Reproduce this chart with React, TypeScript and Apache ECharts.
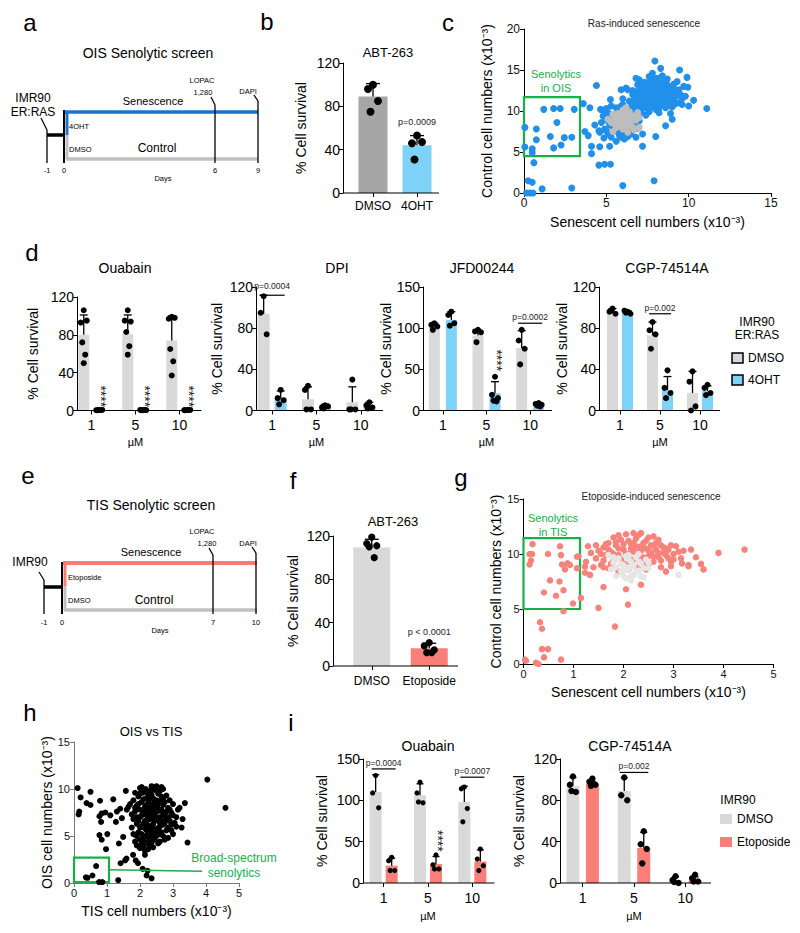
import React, { useEffect, useRef } from "react";
import * as echarts from "echarts";

const FONT = "Arial, 'Liberation Sans', Helvetica, sans-serif";
const GREEN = "#17b04a";
const BLUE_BAR = "#7dd3f7";
const GRAY_BAR = "#d9d9d9";
const DARK_GRAY_BAR = "#a6a6a6";
const SALMON = "#fb7f79";

// ---------- Panel b ----------
const bCategories = ["DMSO", "4OHT"];
const bMeans = [89, 44];
const bErrTop = [101, 53];
const bDots = [[100, 96, 85, 75], [53, 46, 47, 31]];

// ---------- Panel c ----------
const cBlue: number[][] = [
  [6.4, 11.2], [6.6, 12.0], [6.7, 10.6], [6.8, 11.6], [6.9, 12.4], [7.0, 10.9], [7.0, 11.9], [7.1, 13.0], [7.2, 10.3], [7.2, 11.4],
  [7.3, 12.2], [7.3, 13.5], [7.4, 10.8], [7.5, 11.7], [7.5, 12.6], [7.6, 9.9], [7.6, 11.1], [7.7, 12.1], [7.7, 13.2], [7.8, 10.5],
  [7.8, 11.5], [7.9, 12.8], [7.9, 14.0], [8.0, 10.2], [8.0, 11.9], [8.1, 11.0], [8.1, 12.5], [8.2, 13.4], [8.3, 10.7], [8.3, 11.8],
  [8.4, 12.3], [8.5, 11.2], [8.5, 13.0], [8.6, 10.4], [8.6, 12.0], [8.7, 11.5], [8.8, 12.6], [8.8, 10.9], [8.9, 11.8], [9.0, 12.9],
  [9.0, 10.5], [9.1, 11.4], [9.2, 12.2], [9.3, 13.6], [9.4, 11.0], [9.5, 12.0], [9.6, 10.8], [6.5, 10.0], [6.9, 9.6], [7.4, 9.5],
  [8.2, 9.8], [8.9, 9.7], [7.0, 13.8], [7.6, 14.2], [8.4, 14.3], [8.7, 13.9], [6.2, 12.8], [6.0, 11.5], [9.8, 11.8], [9.7, 13.0],
  [6.8, 10.2], [6.9, 11.0], [7.0, 12.6], [7.1, 11.5], [7.1, 10.5], [7.2, 12.0], [7.3, 10.9], [7.3, 11.7], [7.4, 12.4], [7.4, 13.0],
  [7.5, 10.3], [7.5, 11.2], [7.6, 12.2], [7.6, 13.6], [7.7, 10.8], [7.7, 11.6], [7.8, 12.4], [7.8, 13.0], [7.9, 11.1], [7.9, 12.0],
  [8.0, 10.7], [8.0, 12.6], [8.0, 13.5], [8.1, 11.5], [8.2, 10.4], [8.2, 12.1], [8.2, 12.9], [8.3, 11.3], [8.4, 10.9], [8.4, 11.7],
  [8.4, 13.5], [8.5, 12.6], [8.6, 11.1], [8.6, 12.4], [8.7, 10.7], [8.7, 13.2], [8.8, 11.9], [8.9, 11.2], [8.9, 12.3], [9.0, 11.7],
  [9.1, 12.7], [9.2, 10.9], [9.3, 11.9], [9.4, 12.6], [7.2, 12.9], [6.7, 11.3], [6.6, 12.5], [6.9, 13.2], [7.8, 14.6], [8.1, 14.0],
  [9.1, 13.3], [9.6, 11.5],
  [4.7, 8.6], [4.8, 9.4], [4.9, 7.8], [5.0, 8.9], [5.1, 9.8], [5.1, 7.2], [5.2, 8.3], [5.3, 6.8], [5.4, 9.3], [5.5, 7.6],
  [5.6, 8.7], [5.7, 10.0], [5.8, 7.0], [5.9, 8.1], [6.0, 9.5], [6.1, 6.6], [6.2, 7.7], [6.3, 8.8], [6.4, 10.2], [6.5, 7.2],
  [6.6, 8.3], [6.7, 9.4], [6.9, 7.9], [7.0, 8.8], [7.1, 9.8], [5.0, 10.3], [5.6, 6.3], [6.8, 6.8], [4.6, 7.4], [5.3, 10.6],
  [6.0, 10.8], [7.2, 7.2], [5.2, 9.5], [5.4, 8.0], [5.5, 8.7], [5.7, 7.4], [5.8, 9.3], [6.0, 8.4], [6.1, 7.2], [6.4, 7.6],
  [6.6, 9.9], [6.8, 8.4], [5.9, 6.8], [6.3, 6.9], [5.0, 7.6], [4.9, 9.9], [6.5, 10.5], [6.9, 10.4], [5.6, 10.4], [5.9, 10.6],
  [0.05, 8.0], [0.75, 7.8], [1.2, 10.2], [1.8, 10.3], [2.2, 10.3], [3.05, 10.2], [2.0, 8.6], [0.75, 6.5], [1.6, 6.9], [2.45, 6.75],
  [2.9, 6.8], [2.25, 5.85], [1.8, 5.5], [0.05, 5.6], [0.5, 5.4], [0.5, 4.9], [0.6, 3.7], [0.25, 1.5], [0.5, 1.3], [1.1, 0.5],
  [0.15, 0], [0.35, 0], [0.55, 0], [2.9, 0.6], [6.0, 0.9], [7.9, 1.5], [4.9, 3.5], [5.25, 3.5], [4.55, 3.4], [4.1, 4.8],
  [4.6, 5.65], [4.1, 5.7], [5.2, 5.7], [3.6, 10.9], [4.4, 13.1], [7.95, 16.1], [9.45, 15.0], [11.1, 10.3], [10.3, 11.3], [9.95, 12.9],
  [9.9, 14.1], [7.2, 5.7], [8.0, 6.9], [4.0, 10.4], [4.65, 10.2], [4.3, 8.3], [3.9, 7.0], [3.7, 7.5], [4.55, 7.6], [4.85, 6.7],
  [5.25, 11.4], [5.9, 12.6], [6.3, 12.6], [8.6, 8.2], [9.0, 9.0], [10.0, 10.6], [8.3, 15.2], [6.8, 14.0],
];
const cGray: number[][] = [
  [5.3, 8.6], [5.5, 9.2], [5.6, 8.0], [5.7, 9.7], [5.8, 8.5], [5.9, 9.1], [6.0, 7.8], [6.0, 10.1], [6.1, 8.8], [6.2, 9.4],
  [6.3, 8.2], [6.4, 9.9], [6.5, 8.7], [6.6, 9.3], [6.7, 7.7], [6.8, 8.9], [6.9, 9.8], [5.4, 7.5], [6.2, 10.4], [7.0, 9.2],
  [5.1, 9.0], [6.3, 7.4], [7.0, 8.0], [5.5, 8.4], [5.6, 9.0], [5.8, 9.4], [5.9, 8.7], [6.0, 9.0], [6.1, 8.3], [6.1, 9.8],
  [6.3, 9.1], [6.4, 8.5], [6.5, 9.5], [6.6, 8.0], [6.7, 9.0], [5.7, 8.2], [6.2, 8.0], [6.8, 9.4], [5.4, 9.6],
];
const cBox = [[0, 4.5], [3.4, 11.7]];

// ---------- Panel d ----------
const doseCategories = ["1", "5", "10"];
const ouaDmsoMeans = [80, 81, 74];
const ouaDmsoErrTop = [101, 101, 100];
const ouaDmsoDots = [[106, 93, 95, 72, 59, 50], [106, 95, 94, 83, 68, 59], [99, 97, 98, 65, 52, 37]];
const ouaOhtMeans = [0.5, 0.5, 0.5];
const ouaOhtErrTop = [1, 1, 1];
const ouaOhtDots = [[0.5, 0.3, 0.6, 0.4, 0.5], [0.4, 0.6, 0.5, 0.3, 0.5], [0.5, 0.4, 0.6, 0.3, 0.5]];

const dpiDmsoMeans = [94, 11, 8];
const dpiDmsoErrTop = [112, 23, 23];
const dpiDmsoDots = [[111, 95, 74], [24, 20, 1, 1], [30, 1, 1, 1]];
const dpiOhtMeans = [12, 4, 4];
const dpiOhtErrTop = [19, 6, 8];
const dpiOhtDots = [[20, 12, 10, 6], [5, 3, 4, 2], [8, 5, 3, 2]];

const jfdDmsoMeans = [102, 91, 76];
const jfdDmsoErrTop = [106, 97, 97];
const jfdDmsoDots = [[106, 104, 102, 98], [98, 96, 95, 83], [98, 85, 75, 56]];
const jfdOhtMeans = [110, 21, 6];
const jfdOhtErrTop = [120, 35, 9];
const jfdOhtDots = [[120, 116, 106, 103], [41, 19, 15, 12, 11], [9, 8, 7, 6, 5]];

const cgpDmsoMeans = [96.5, 73, 17];
const cgpDmsoErrTop = [99, 86, 38];
const cgpDmsoDots = [[99, 96, 94, 97], [86, 78, 74, 60], [38, 28, 4, 0]];
const cgpOhtMeans = [95.5, 20, 19];
const cgpOhtErrTop = [97, 33, 24];
const cgpOhtDots = [[96, 97, 94, 95], [39, 22, 17, 12], [25, 22, 17, 15]];

// ---------- Panel f ----------
const fCategories = ["DMSO", "Etoposide"];
const fMeans = [109.5, 16.3];
const fErrTop = [117, 21];
const fDots = [[119, 113, 111, 110, 100], [21.5, 18.5, 14.8, 12.3, 12.3]];

// ---------- Panel g ----------
const gSalmon: number[][] = [
  [1.45, 9.6], [1.5, 10.3], [1.55, 9.0], [1.6, 10.6], [1.65, 9.9], [1.7, 8.7], [1.7, 11.0], [1.75, 10.2], [1.8, 9.4], [1.85, 10.8],
  [1.9, 8.4], [1.9, 9.9], [1.95, 11.3], [2.0, 10.4], [2.0, 9.1], [2.05, 11.8], [2.1, 10.0], [2.1, 8.6], [2.15, 10.9], [2.2, 9.5],
  [2.25, 11.4], [2.3, 10.2], [2.3, 8.8], [2.35, 10.7], [2.4, 9.7], [2.45, 11.2], [2.5, 10.3], [2.5, 9.1], [2.55, 10.8], [2.6, 9.8],
  [2.65, 11.0], [2.7, 10.1], [2.75, 9.4], [2.8, 10.6], [2.85, 9.9], [2.9, 10.4], [2.95, 9.3], [3.0, 10.0], [3.05, 10.7], [1.35, 10.1],
  [1.25, 9.3], [1.4, 8.8], [2.2, 11.9], [2.6, 11.6], [1.8, 11.5], [3.15, 9.6], [3.2, 10.3], [3.3, 9.0], [3.45, 9.7], [3.55, 9.1],
  [3.35, 10.4],
  [1.55, 10.0], [1.6, 9.4], [1.65, 10.9], [1.7, 10.4], [1.75, 9.1], [1.8, 10.0], [1.85, 11.1], [1.9, 10.5], [1.95, 9.5], [2.0, 10.9],
  [2.05, 10.0], [2.1, 11.2], [2.1, 9.3], [2.15, 10.5], [2.2, 11.0], [2.2, 10.2], [2.25, 10.7], [2.3, 11.7], [2.3, 9.8], [2.35, 10.3],
  [2.4, 11.0], [2.4, 9.2], [2.45, 10.5], [2.5, 11.5], [2.5, 9.8], [2.55, 10.1], [2.6, 10.7], [2.6, 9.3], [2.65, 10.4], [2.7, 11.3],
  [2.7, 9.7], [2.75, 10.8], [2.8, 10.1], [2.85, 10.5], [2.9, 9.6], [2.95, 10.8], [3.0, 9.5], [3.1, 10.2], [1.45, 10.8], [1.6, 8.8],
  [2.45, 8.6], [2.75, 8.8], [2.95, 8.9], [1.9, 11.7], [2.35, 11.9],
  [0.18, 10.9], [0.12, 10.0], [0.17, 10.0], [0.15, 9.4], [0.12, 9.05], [0.49, 10.0], [0.73, 10.7], [0.75, 9.9], [0.77, 9.05], [0.88, 9.15],
  [0.83, 8.6], [0.93, 9.0], [1.07, 9.75], [1.07, 8.7], [0.53, 7.6], [0.72, 7.5], [0.41, 6.5], [0.8, 6.7], [0.65, 6.2], [0.99, 5.5],
  [0.8, 4.8], [1.15, 6.0], [1.29, 10.7], [1.23, 8.85], [1.23, 8.3], [1.33, 8.1], [3.9, 10.1], [4.42, 10.4], [3.3, 8.9], [3.17, 9.15],
  [1.5, 5.1], [1.83, 3.4], [2.09, 5.4], [0.33, 3.8], [0.37, 3.2], [0.37, 1.35], [0.49, 1.35], [0.41, 0.6], [0.75, 0.4], [0.03, 0.4],
  [0.05, 0.3], [0.25, 0.1], [0.3, 0.0], [2.05, 6.8], [1.6, 7.0], [2.35, 7.2], [2.85, 8.4], [3.6, 8.6], [1.1, 9.8],
];
const gGray: number[][] = [
  [1.75, 8.6], [1.8, 9.2], [1.85, 8.0], [1.9, 9.6], [1.95, 8.4], [2.0, 9.0], [2.05, 7.8], [2.05, 9.8], [2.1, 8.6], [2.15, 9.3],
  [2.2, 8.1], [2.25, 9.7], [2.3, 8.5], [2.35, 9.1], [2.4, 7.9], [2.45, 9.5], [2.15, 7.6], [2.5, 8.7], [3.1, 8.1], [1.7, 9.9],
  [2.3, 10.0], [1.85, 8.8], [1.95, 9.1], [2.0, 8.5], [2.1, 9.5], [2.2, 8.9], [2.25, 8.4], [2.3, 9.3], [2.4, 8.7], [2.0, 8.0],
  [2.15, 8.0], [2.35, 8.0], [1.8, 9.7], [2.1, 9.9], [2.5, 9.2],
];
const gBox = [[0, 5.0], [1.13, 11.45]];

// ---------- Panel h ----------
const hPoints: number[][] = [
  [1.8, 8.8], [1.85, 7.6], [1.9, 6.3], [1.9, 8.2], [1.95, 5.4], [1.95, 9.2], [2.0, 7.0], [2.0, 4.6], [2.05, 8.6], [2.05, 6.0],
  [2.1, 7.6], [2.1, 5.0], [2.1, 9.6], [2.15, 6.6], [2.15, 8.1], [2.2, 4.2], [2.2, 5.6], [2.2, 7.2], [2.2, 9.0], [2.25, 6.1],
  [2.25, 8.5], [2.3, 4.9], [2.3, 7.8], [2.3, 6.8], [2.35, 5.3], [2.35, 9.4], [2.4, 6.3], [2.4, 8.0], [2.45, 7.2], [2.45, 4.6],
  [2.5, 5.8], [2.5, 8.8], [2.55, 6.7], [2.6, 7.7], [2.6, 5.2], [2.65, 9.2], [2.7, 6.2], [2.7, 8.3], [2.75, 7.1], [2.8, 5.6],
  [2.85, 8.0], [2.9, 6.6], [2.95, 7.5], [3.0, 8.4], [2.0, 3.7], [2.3, 3.9], [1.75, 7.3], [1.75, 5.9], [2.4, 10.0], [2.6, 9.8],
  [3.1, 7.0], [3.2, 8.0], [3.0, 5.2], [1.7, 8.4], [2.15, 3.4], [2.55, 4.2], [2.85, 4.8], [1.85, 4.4], [2.0, 10.1], [2.5, 10.3],
  [2.05, 5.2], [2.25, 7.4], [2.35, 6.0], [2.45, 8.6], [2.15, 5.8], [2.4, 5.1], [2.6, 6.4], [2.2, 6.6], [2.3, 8.9], [2.55, 7.9],
  [1.85, 9.6], [1.9, 7.0], [1.9, 5.0], [1.95, 8.4], [1.95, 6.6], [2.0, 9.5], [2.0, 7.8], [2.0, 5.9], [2.05, 7.2], [2.05, 4.2],
  [2.1, 8.9], [2.1, 6.3], [2.1, 4.6], [2.15, 9.9], [2.15, 7.4], [2.15, 4.9], [2.2, 8.3], [2.2, 6.2], [2.2, 5.0], [2.25, 9.4],
  [2.25, 7.9], [2.25, 5.3], [2.25, 4.4], [2.3, 9.8], [2.3, 7.2], [2.3, 6.0], [2.3, 5.6], [2.35, 8.3], [2.35, 7.0], [2.35, 4.3],
  [2.4, 9.0], [2.4, 7.5], [2.4, 5.6], [2.4, 4.8], [2.45, 9.9], [2.45, 8.2], [2.45, 6.6], [2.45, 5.3], [2.5, 7.6], [2.5, 6.8],
  [2.5, 5.0], [2.55, 9.5], [2.55, 8.4], [2.55, 5.6], [2.6, 8.7], [2.6, 7.0], [2.6, 6.0], [2.65, 7.8], [2.65, 6.6], [2.65, 5.4],
  [2.7, 9.0], [2.7, 7.4], [2.7, 5.0], [2.75, 8.6], [2.75, 6.4], [2.8, 7.6], [2.8, 9.3], [2.8, 6.8], [2.85, 7.0], [2.85, 5.9],
  [2.9, 8.8], [2.9, 7.8], [2.95, 6.2], [3.0, 7.2], [3.05, 6.4], [1.8, 6.8], [1.8, 5.2], [1.85, 8.0], [1.9, 4.0], [2.0, 3.9],
  [2.1, 3.8], [2.25, 3.6], [2.4, 3.8], [2.6, 4.4], [2.75, 4.6], [2.95, 5.6], [3.1, 6.0], [3.15, 7.8], [2.05, 10.2], [2.35, 10.3],
  [2.7, 10.0],
  [0.11, 10.1], [0.5, 9.7], [0.2, 9.1], [0.38, 8.5], [0.5, 8.3], [0.16, 7.6], [0.14, 7.3], [0.79, 8.75], [1.57, 9.8], [1.19, 8.9],
  [0.77, 7.1], [0.84, 7.4], [0.95, 7.5], [0.82, 6.5], [0.77, 5.1], [0.84, 4.6], [1.01, 5.2], [0.97, 3.6], [1.27, 6.5], [1.36, 4.2],
  [1.49, 4.9], [1.3, 7.6], [1.45, 6.9], [1.55, 2.4], [1.59, 2.6], [1.79, 3.0], [1.87, 2.4], [1.94, 2.1], [2.08, 1.5], [2.2, 0.8],
  [2.23, 1.3], [2.35, 0.5], [2.15, 3.0], [1.41, 2.1], [1.34, 0.3], [3.44, 4.3], [3.29, 6.8], [3.26, 5.9], [3.36, 8.5], [4.04, 11.0],
  [4.59, 8.0], [2.65, 10.2], [2.17, 10.0], [1.6, 7.8], [1.65, 8.1], [1.4, 7.9], [1.1, 7.2],
  [0.67, 1.8], [0.36, 0.6], [0.41, 0.55], [0.56, 0.8], [0.76, 0.1], [0.86, 0.1],
];
const hBox = [[0, 0.1], [1.06, 2.7]];
const hPointer = [[1.06, 1.42], [3.88, 1.25]];

// ---------- Panel i ----------
const iOuaDmsoMeans = [110, 106, 98];
const iOuaDmsoErrTop = [131, 120, 117];
const iOuaDmsoDots = [[130, 109, 91], [122, 109, 97, 98], [116, 114, 90, 74]];
const iOuaEtoMeans = [21, 23, 26];
const iOuaEtoErrTop = [30, 32, 40];
const iOuaEtoDots = [[31, 27, 15, 15], [34, 22, 17, 17], [41, 29, 21, 15]];

const iCgpDmsoMeans = [94, 89, 3];
const iCgpDmsoErrTop = [102, 102, 6];
const iCgpDmsoDots = [[103, 95, 88, 89], [102, 85, 80], [6.5, 3, 0, 1]];
const iCgpEtoMeans = [96, 34, 2.5];
const iCgpEtoErrTop = [98, 49, 6];
const iCgpEtoDots = [[101, 98, 95, 94], [50, 37.5, 33, 19], [8, 4.5, 1.5, 1.5]];

// ================= builders =================
type Opt = { grid: any[]; xAxis: any[]; yAxis: any[]; series: any[]; graphic: any[] };

interface Group { color: string; itemColors?: string[]; means: number[]; errTop: number[]; dots: number[][] }
interface BarCfg {
  left: number; width: number; top: number; bottom: number; axisX: number;
  yMax: number; yInterval: number; cats: string[]; groups: Group[];
  barWidth: number; gap: number; dotR: number; capW: number; jitter: number;
  yNameGap: number; yLabelSize: number; xLabelSize: number; xLabelMargin: number;
  xName?: string; xNameGap?: number;
  sig?: [number, number, number, string][];
  stars?: [number, number, number][];
  ptext?: [number, number, number, string][];
}

const JIT = [0, -1, 1, -0.5, 0.5, 0, -1, 1];

function addBarPanel(o: Opt, cfg: BarCfg) {
  const gi = o.grid.length;
  o.grid.push({ left: cfg.left, width: cfg.width, top: cfg.top, height: cfg.bottom - cfg.top });
  o.xAxis.push({
    gridIndex: gi, type: "category", data: cfg.cats, boundaryGap: true,
    axisLine: { show: false },
    axisTick: { show: true, alignWithLabel: true, length: 4, lineStyle: { color: "#000", width: 1 } },
    axisLabel: { color: "#000", fontSize: cfg.xLabelSize, fontFamily: FONT, margin: cfg.xLabelMargin, interval: 0 },
    name: cfg.xName, nameLocation: "middle", nameGap: cfg.xNameGap,
    nameTextStyle: { color: "#000", fontSize: 11, fontFamily: FONT },
  });
  o.yAxis.push({
    gridIndex: gi, type: "value", min: 0, max: cfg.yMax, interval: cfg.yInterval,
    offset: cfg.left - cfg.axisX,
    axisLine: { show: true, lineStyle: { color: "#000", width: 1 } },
    axisTick: { show: true, length: 4, lineStyle: { color: "#000", width: 1 } },
    axisLabel: { color: "#000", fontSize: cfg.yLabelSize, fontFamily: FONT, margin: 3 },
    splitLine: { show: false },
    name: "% Cell survival", nameLocation: "middle", nameGap: cfg.yNameGap, nameRotate: 90,
    nameTextStyle: { color: "#000", fontSize: 14, fontFamily: FONT },
  });
  const n = cfg.groups.length;
  const shifts = cfg.groups.map((_, i) => (i - (n - 1) / 2) * (cfg.barWidth + cfg.gap));
  cfg.groups.forEach((g) => {
    o.series.push({
      type: "bar", xAxisIndex: gi, yAxisIndex: gi,
      data: g.itemColors ? g.means.map((v, i) => ({ value: v, itemStyle: { color: g.itemColors![i] } })) : g.means,
      barWidth: cfg.barWidth,
      barGap: (cfg.gap / cfg.barWidth) * 100 + "%", itemStyle: { color: g.color }, silent: true, z: 2,
    });
  });
  o.series.push({
    type: "custom", xAxisIndex: gi, yAxisIndex: gi, clip: false, z: 3, silent: true, data: [[0, 0]],
    renderItem: (p: any, api: any) => {
      const cs = p.coordSys;
      const y = api.coord([0, 0])[1];
      return { type: "line", shape: { x1: cfg.axisX, y1: y, x2: cs.x + cs.width, y2: y }, style: { stroke: "#000", lineWidth: 1 } };
    },
  });
  cfg.groups.forEach((g, k) => {
    o.series.push({
      type: "custom", xAxisIndex: gi, yAxisIndex: gi, clip: false, z: 4, silent: true,
      data: g.means.map((m, i) => [i, m, g.errTop[i]]),
      renderItem: (p: any, api: any) => {
        const a = api.coord([api.value(0), api.value(1)]);
        const b = api.coord([api.value(0), api.value(2)]);
        const x = a[0] + shifts[k];
        return {
          type: "group",
          children: [
            { type: "line", shape: { x1: x, y1: a[1], x2: x, y2: b[1] }, style: { stroke: "#000", lineWidth: 1.3 } },
            { type: "line", shape: { x1: x - cfg.capW / 2, y1: b[1], x2: x + cfg.capW / 2, y2: b[1] }, style: { stroke: "#000", lineWidth: 1.3 } },
          ],
        };
      },
    });
  });
  cfg.groups.forEach((g, k) => {
    const data: number[][] = [];
    g.dots.forEach((arr, ci) => arr.forEach((v, j) => data.push([ci, v, j])));
    o.series.push({
      type: "custom", xAxisIndex: gi, yAxisIndex: gi, clip: false, z: 5, silent: true, data,
      renderItem: (p: any, api: any) => {
        const c = api.coord([api.value(0), api.value(1)]);
        const x = c[0] + shifts[k] + JIT[api.value(2) % JIT.length] * cfg.jitter;
        return { type: "circle", shape: { cx: x, cy: c[1], r: cfg.dotR }, style: { fill: "#000" } };
      },
    });
  });
  if (cfg.sig) {
    const sig = cfg.sig;
    o.series.push({
      type: "custom", xAxisIndex: gi, yAxisIndex: gi, clip: false, z: 6, silent: true,
      data: sig.map((s, i) => [s[0], s[1], s[2], i]),
      renderItem: (p: any, api: any) => {
        const l = api.coord([api.value(0), api.value(1)]);
        const t = api.coord([api.value(0), api.value(2)]);
        const x0 = l[0] + shifts[0] - cfg.barWidth / 2 + 2;
        const x1 = l[0] + shifts[n - 1] + cfg.barWidth / 2 - 2;
        return {
          type: "group",
          children: [
            { type: "line", shape: { x1: x0, y1: l[1], x2: x1, y2: l[1] }, style: { stroke: "#000", lineWidth: 1.2 } },
            { type: "text", x: l[0], y: t[1], style: { text: sig[api.value(3)][3], fontSize: 8.5, fontFamily: FONT, fill: "#222", align: "center", verticalAlign: "middle" } },
          ],
        };
      },
    });
  }
  if (cfg.stars) {
    o.series.push({
      type: "custom", xAxisIndex: gi, yAxisIndex: gi, clip: false, z: 6, silent: true,
      data: cfg.stars.map((s) => [s[1], s[2], s[0]]),
      renderItem: (p: any, api: any) => {
        const c = api.coord([api.value(0), api.value(1)]);
        return {
          type: "text", x: c[0] + shifts[api.value(2)] + 2, y: c[1], rotation: -Math.PI / 2,
          style: { text: "****", fontSize: 14, fontFamily: FONT, fill: "#222", align: "center", verticalAlign: "middle" },
        };
      },
    });
  }
  if (cfg.ptext) {
    const pt = cfg.ptext;
    o.series.push({
      type: "custom", xAxisIndex: gi, yAxisIndex: gi, clip: false, z: 6, silent: true,
      data: pt.map((s, i) => [s[1], s[2], s[0], i]),
      renderItem: (p: any, api: any) => {
        const c = api.coord([api.value(0), api.value(1)]);
        return {
          type: "text", x: c[0] + shifts[api.value(2)], y: c[1],
          style: { text: pt[api.value(3)][3], fontSize: 9, fontFamily: FONT, fill: "#222", align: "center", verticalAlign: "middle" },
        };
      },
    });
  }
}

interface ScatterCfg {
  left: number; width: number; top: number; bottom: number;
  xMax: number; xInterval: number; yMax: number; yInterval: number;
  xName: string; yName: string; xNameGap: number; yNameGap: number; labelSize: number; axisColor: string;
  sets: { data: number[][]; color: string; size: number }[];
  box: number[][]; pointer?: number[][];
}

function addScatterPanel(o: Opt, cfg: ScatterCfg) {
  const gi = o.grid.length;
  o.grid.push({ left: cfg.left, width: cfg.width, top: cfg.top, height: cfg.bottom - cfg.top });
  const axisCommon = {
    gridIndex: gi, type: "value", min: 0,
    axisLine: { show: true, lineStyle: { color: cfg.axisColor, width: 1 } },
    axisTick: { show: true, length: 4, lineStyle: { color: cfg.axisColor } },
    axisLabel: { color: "#111", fontSize: cfg.labelSize, fontFamily: FONT, margin: 4 },
    splitLine: { show: false }, nameLocation: "middle",
    nameTextStyle: { color: "#000", fontSize: 14, fontFamily: FONT },
  };
  o.xAxis.push({ ...axisCommon, max: cfg.xMax, interval: cfg.xInterval, name: cfg.xName, nameGap: cfg.xNameGap });
  o.yAxis.push({ ...axisCommon, max: cfg.yMax, interval: cfg.yInterval, name: cfg.yName, nameGap: cfg.yNameGap, nameRotate: 90 });
  cfg.sets.forEach((s, k) => {
    const ser: any = {
      type: "scatter", xAxisIndex: gi, yAxisIndex: gi, data: s.data, symbolSize: s.size,
      itemStyle: { color: s.color, opacity: 1 }, silent: true, z: 2 + k, clip: false,
    };
    if (k === 0) {
      ser.markArea = {
        silent: true,
        itemStyle: { color: "rgba(0,0,0,0)", borderColor: GREEN, borderWidth: 2.2 },
        data: [[{ coord: [cfg.box[0][0], cfg.box[1][1]] }, { coord: [cfg.box[1][0], cfg.box[0][1]] }]],
      };
      if (cfg.pointer) {
        ser.markLine = {
          silent: true, symbol: ["none", "none"], label: { show: false },
          lineStyle: { color: GREEN, width: 1.5, type: "solid" },
          data: [[{ coord: cfg.pointer[0] }, { coord: cfg.pointer[1] }]],
        };
      }
    }
    o.series.push(ser);
  });
}

const L = (x1: number, y1: number, x2: number, y2: number, stroke = "#000", lineWidth = 1.3) =>
  ({ type: "line", shape: { x1, y1, x2, y2 }, style: { stroke, lineWidth }, silent: true });
const T = (text: string, x: number, y: number, fontSize: number, extra: any = {}) =>
  ({ type: "text", x, y, silent: true, style: { text, fontSize, fontFamily: FONT, fill: extra.fill || "#000", align: extra.align || "center", verticalAlign: "middle", fontWeight: extra.weight || "normal" } });
const R = (x: number, y: number, w: number, h: number, fill: string, stroke?: string) =>
  ({ type: "rect", shape: { x, y, width: w, height: h }, silent: true, style: { fill, stroke: stroke || null, lineWidth: stroke ? 1.5 : 0 } });

function buildOption() {
  const o: Opt = { grid: [], xAxis: [], yAxis: [], series: [], graphic: [] };

  addBarPanel(o, {
    left: 351, width: 88, top: 63, bottom: 193, axisX: 343, yMax: 120, yInterval: 40, cats: bCategories,
    groups: [{ color: DARK_GRAY_BAR, itemColors: [DARK_GRAY_BAR, BLUE_BAR], means: bMeans, errTop: bErrTop, dots: bDots }],
    barWidth: 29, gap: 0, dotR: 4, capW: 14, jitter: 5, yNameGap: 35, yLabelSize: 14, xLabelSize: 12, xLabelMargin: 7,
    ptext: [[0, 1, 66, "p=0.0009"]],
  });

  addScatterPanel(o, {
    left: 524, width: 247, top: 29, bottom: 193, xMax: 15, xInterval: 5, yMax: 20, yInterval: 5,
    xName: "Senescent cell numbers (x10⁻³)", yName: "Control cell numbers (x10⁻³)", xNameGap: 22, yNameGap: 30,
    labelSize: 12, axisColor: "#000",
    sets: [{ data: cBlue, color: "#2190ea", size: 7 }, { data: cGray, color: "#bdbdbd", size: 7 }], box: cBox,
  });

  const dCommon = { top: 297, bottom: 410.5, cats: doseCategories, dotR: 3, capW: 8, jitter: 3, yLabelSize: 14, xLabelSize: 14, xLabelMargin: 7, xName: "µM", xNameGap: 26 };
  addBarPanel(o, {
    ...dCommon, left: 69.5, width: 132, axisX: 77, yMax: 120, yInterval: 40, barWidth: 11, gap: 4.5, yNameGap: 37,
    groups: [
      { color: GRAY_BAR, means: ouaDmsoMeans, errTop: ouaDmsoErrTop, dots: ouaDmsoDots },
      { color: BLUE_BAR, means: ouaOhtMeans, errTop: ouaOhtErrTop, dots: ouaOhtDots },
    ],
    stars: [[1, 0, 15], [1, 1, 15], [1, 2, 15]],
  });
  addBarPanel(o, {
    ...dCommon, top: 287, left: 250, width: 133, axisX: 256, yMax: 120, yInterval: 40, barWidth: 12, gap: 5, yNameGap: 32,
    groups: [
      { color: GRAY_BAR, means: dpiDmsoMeans, errTop: dpiDmsoErrTop, dots: dpiDmsoDots },
      { color: BLUE_BAR, means: dpiOhtMeans, errTop: dpiOhtErrTop, dots: dpiOhtDots },
    ],
    sig: [[0, 112, 121, "p=0.0004"]],
  });
  addBarPanel(o, {
    ...dCommon, top: 287, left: 421, width: 131, axisX: 423, yMax: 150, yInterval: 50, barWidth: 11, gap: 6, yNameGap: 29,
    groups: [
      { color: GRAY_BAR, means: jfdDmsoMeans, errTop: jfdDmsoErrTop, dots: jfdDmsoDots },
      { color: BLUE_BAR, means: jfdOhtMeans, errTop: jfdOhtErrTop, dots: jfdOhtDots },
    ],
    sig: [[2, 106, 114, "p=0.0002"]],
    stars: [[1, 1, 61]],
  });
  addBarPanel(o, {
    ...dCommon, top: 287, left: 600, width: 120, axisX: 599, yMax: 120, yInterval: 40, barWidth: 11, gap: 4, yNameGap: 27,
    groups: [
      { color: GRAY_BAR, means: cgpDmsoMeans, errTop: cgpDmsoErrTop, dots: cgpDmsoDots },
      { color: BLUE_BAR, means: cgpOhtMeans, errTop: cgpOhtErrTop, dots: cgpOhtDots },
    ],
    sig: [[1, 94, 100, "p=0.002"]],
  });

  addBarPanel(o, {
    left: 343, width: 115, top: 536, bottom: 666, axisX: 333, yMax: 120, yInterval: 40, cats: fCategories,
    groups: [{ color: GRAY_BAR, itemColors: [GRAY_BAR, SALMON], means: fMeans, errTop: fErrTop, dots: fDots }],
    barWidth: 37, gap: 0, dotR: 3.6, capW: 14, jitter: 5, yNameGap: 33, yLabelSize: 14, xLabelSize: 12, xLabelMargin: 9,
    ptext: [[0, 1, 31, "p < 0.0001"]],
  });

  addScatterPanel(o, {
    left: 523.5, width: 250, top: 499, bottom: 664, xMax: 5, xInterval: 1, yMax: 15, yInterval: 5,
    xName: "Senescent cell numbers (x10⁻³)", yName: "Control cell numbers (x10⁻³)", xNameGap: 21, yNameGap: 19,
    labelSize: 11, axisColor: "#000",
    sets: [{ data: gSalmon, color: "#f9827a", size: 6.5 }, { data: gGray, color: "#e6e6e6", size: 6.5 }], box: gBox,
  });

  addScatterPanel(o, {
    left: 74, width: 165, top: 742, bottom: 883, xMax: 5, xInterval: 1, yMax: 15, yInterval: 5,
    xName: "TIS cell numbers (x10⁻³)", yName: "OIS cell numbers (x10⁻³)", xNameGap: 21, yNameGap: 20,
    labelSize: 11, axisColor: "#777",
    sets: [{ data: hPoints, color: "#000", size: 6 }], box: hBox, pointer: hPointer,
  });

  const iCommon = { top: 759, bottom: 883, cats: doseCategories, dotR: 2.6, capW: 7, jitter: 3, yLabelSize: 14, xLabelSize: 14, xLabelMargin: 8, xName: "µM", xNameGap: 27 };
  addBarPanel(o, {
    ...iCommon, left: 361.5, width: 133, axisX: 363, yMax: 150, yInterval: 50, barWidth: 12, gap: 4, yNameGap: 34,
    groups: [
      { color: GRAY_BAR, means: iOuaDmsoMeans, errTop: iOuaDmsoErrTop, dots: iOuaDmsoDots },
      { color: SALMON, means: iOuaEtoMeans, errTop: iOuaEtoErrTop, dots: iOuaEtoDots },
    ],
    sig: [[0, 138, 145, "p=0.0004"], [2, 128, 135, "p=0.0007"]],
    stars: [[1, 1, 51]],
  });
  addBarPanel(o, {
    ...iCommon, left: 557, width: 154, axisX: 560, yMax: 120, yInterval: 40, barWidth: 13, gap: 6.5, yNameGap: 34, dotR: 3.2,
    groups: [
      { color: GRAY_BAR, means: iCgpDmsoMeans, errTop: iCgpDmsoErrTop, dots: iCgpDmsoDots },
      { color: SALMON, means: iCgpEtoMeans, errTop: iCgpEtoErrTop, dots: iCgpEtoDots },
    ],
    sig: [[1, 107, 113, "p=0.002"]],
  });

  const G = o.graphic;
  [["a", 30, 22], ["b", 267, 21], ["c", 448, 22], ["d", 32, 252], ["e", 28, 475], ["f", 293, 480], ["g", 461, 477], ["h", 30, 712], ["i", 291, 722]]
    .forEach(([t, x, y]) => G.push(T(t as string, x as number, y as number, 24)));
  G.push(T("OIS Senolytic screen", 148, 53, 14));
  G.push(T("ABT-263", 388, 52, 13));
  G.push(T("Ras-induced senescence", 644, 23, 10, { fill: "#222" }));
  G.push(T("Ouabain", 125, 268, 14));
  G.push(T("DPI", 337, 268, 14));
  G.push(T("JFD00244", 482, 268, 14));
  G.push(T("CGP-74514A", 667, 268, 14));
  G.push(T("TIS Senolytic screen", 151, 505, 14));
  G.push(T("ABT-263", 393, 521, 13));
  G.push(T("Etoposide-induced senescence", 651, 496, 10, { fill: "#222" }));
  G.push(T("OIS vs TIS", 151, 731, 13));
  G.push(T("Ouabain", 428, 746, 14));
  G.push(T("CGP-74514A", 630, 746, 14));
  G.push(T("Senolytics", 556, 74, 11, { fill: GREEN }));
  G.push(T("in OIS", 556, 88, 11, { fill: GREEN }));
  G.push(T("Senolytics", 553, 518, 11, { fill: GREEN }));
  G.push(T("in TIS", 553, 532, 11, { fill: GREEN }));
  G.push(T("Broad-spectrum", 234, 858, 12, { fill: GREEN }));
  G.push(T("senolytics", 234, 873, 12, { fill: GREEN }));
  G.push(T("IMR90", 757, 322, 12));
  G.push(T("ER:RAS", 757, 335, 12));
  G.push(R(732, 353, 11, 10, GRAY_BAR, "#000"));
  G.push(T("DMSO", 748, 358, 12, { align: "left" }));
  G.push(R(732, 375, 11, 10, BLUE_BAR, "#000"));
  G.push(T("4OHT", 748, 380, 12, { align: "left" }));
  G.push(T("IMR90", 738, 800, 12));
  G.push(R(720, 814, 12, 10, GRAY_BAR));
  G.push(T("DMSO", 737, 819, 12, { align: "left" }));
  G.push(R(720, 837, 12, 10, SALMON));
  G.push(T("Etoposide", 737, 842, 12, { align: "left" }));

  const SBLUE = "#1874cd";
  const SGRAY = "#c0c0c0";
  G.push(T("IMR90", 33, 98, 12));
  G.push(T("ER:RAS", 33, 112, 12));
  G.push(L(41, 118, 47, 130));
  G.push(L(47, 130, 47, 163));
  G.push(L(47, 135, 64, 135, "#000", 3.5));
  G.push(L(64, 110, 64, 163, "#000", 2));
  G.push(L(65, 112, 258, 112, SBLUE, 3.5));
  G.push(L(67, 112, 67, 135, SBLUE, 3));
  G.push(L(67, 135, 67, 159, SGRAY, 3));
  G.push(L(66, 159, 258, 159, SGRAY, 3.5));
  G.push(L(211, 97, 215, 105));
  G.push(L(215, 105, 215, 163));
  G.push(L(254, 95, 258, 101));
  G.push(L(258, 101, 258, 163));
  G.push(T("4OHT", 69, 126, 7.5, { align: "left" }));
  G.push(T("DMSO", 69, 149, 7.5, { align: "left" }));
  G.push(T("Senescence", 153, 101, 11));
  G.push(T("Control", 157, 148, 12));
  G.push(T("LOPAC", 202, 80, 7.5));
  G.push(T("1,280", 203, 92, 7.5));
  G.push(T("DAPI", 248, 91, 7.5));
  G.push(T("-1", 47, 170, 7.5));
  G.push(T("0", 64, 170, 7.5));
  G.push(T("6", 215, 170, 7.5));
  G.push(T("9", 258, 170, 7.5));
  G.push(T("Days", 163, 178, 7.5));

  const SSAL = "#f87c74";
  G.push(T("IMR90", 30, 562, 12));
  G.push(L(39, 572, 44, 580));
  G.push(L(44, 580, 44, 614));
  G.push(L(44, 587, 62, 587, "#000", 3.5));
  G.push(L(62, 562, 62, 614, "#000", 2));
  G.push(L(63, 563, 257, 563, SSAL, 4));
  G.push(L(65, 563, 65, 586, SSAL, 3));
  G.push(L(65, 586, 65, 610, SGRAY, 3));
  G.push(L(64, 610, 257, 610, SGRAY, 3.5));
  G.push(L(209, 548, 213, 555));
  G.push(L(213, 555, 213, 614));
  G.push(L(252, 547, 256, 553));
  G.push(L(256, 553, 256, 614));
  G.push(T("Etoposide", 68, 577, 7.5, { align: "left" }));
  G.push(T("DMSO", 68, 600, 7.5, { align: "left" }));
  G.push(T("Senescence", 151, 552, 11));
  G.push(T("Control", 154, 600, 12));
  G.push(T("LOPAC", 202, 531, 7.5));
  G.push(T("1,280", 207, 543, 7.5));
  G.push(T("DAPI", 248, 543, 7.5));
  G.push(T("-1", 44, 622, 7.5));
  G.push(T("0", 62, 622, 7.5));
  G.push(T("7", 213, 622, 7.5));
  G.push(T("10", 256, 622, 7.5));
  G.push(T("Days", 160, 630, 7.5));

  return {
    animation: false,
    backgroundColor: "#fff",
    textStyle: { fontFamily: FONT },
    grid: o.grid, xAxis: o.xAxis, yAxis: o.yAxis, series: o.series, graphic: { elements: o.graphic },
  };
}

export default function App() {
  const ref = useRef<HTMLDivElement>(null);
  useEffect(() => {
    document.body.style.margin = "0";
    const chart = echarts.init(ref.current!, null, { renderer: "svg" });
    chart.setOption(buildOption() as any);
    return () => chart.dispose();
  }, []);
  return <div ref={ref} style={{ width: 800, height: 933 }} />;
}
